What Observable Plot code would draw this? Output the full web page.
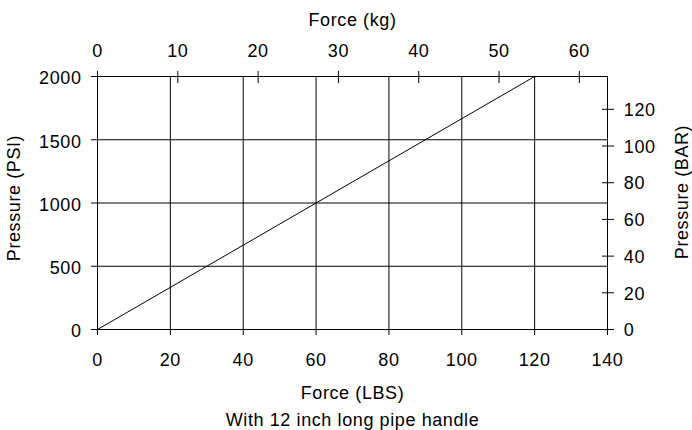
<!DOCTYPE html>
<html><head><meta charset="utf-8">
<script src="https://cdn.jsdelivr.net/npm/d3@7"></script>
<script src="https://cdn.jsdelivr.net/npm/@observablehq/plot@0.6"></script>
<style>body{margin:0;background:#fff}</style>
</head><body><div id="chart"></div>
<script>
const forceLbs = [0, 120];
const pressurePsi = [0, 2000];
const lbsTicks = [0, 20, 40, 60, 80, 100, 120, 140];
const psiTicks = [0, 500, 1000, 1500, 2000];
const kgTicks = [0, 10, 20, 30, 40, 50, 60];
const barTicks = [0, 20, 40, 60, 80, 100, 120];
const gridLbs = [20, 40, 60, 80, 100, 120];
const gridPsi = [500, 1000, 1500];
const LBS_PER_KG = 2.20462;
const PSI_PER_BAR = 14.5038;
const topLabel = "Force (kg)";
const bottomLabel = "Force (LBS)";
const subLabel = "With 12 inch long pipe handle";
const leftLabel = "Pressure (PSI)";
const rightLabel = "Pressure (BAR)";

const data = forceLbs.map((x, i) => ({lbs: x, psi: pressurePsi[i]}));
const kgInLbs = kgTicks.map(k => k * LBS_PER_KG);
const barInPsi = barTicks.map(b => b * PSI_PER_BAR);
const plain = d => String(d);

const plot = Plot.plot({
  width: 692, height: 430,
  marginLeft: 97, marginRight: 85, marginTop: 76, marginBottom: 101,
  style: {fontFamily: "'Liberation Sans', Arial, sans-serif", fontSize: "18px", letterSpacing: "0.6px", background: "#fff", color: "#000"},
  x: {domain: [0, 140]},
  y: {domain: [0, 2000]},
  marks: [
    Plot.gridX(gridLbs, {stroke: "#000", strokeOpacity: 1}),
    Plot.gridY(gridPsi, {stroke: "#000", strokeOpacity: 1}),
    Plot.frame({stroke: "#000"}),
    Plot.line(data, {x: "lbs", y: "psi", stroke: "#000", strokeWidth: 1}),
    // bottom
    Plot.axisX(lbsTicks, {anchor: "bottom", tickSize: 6, fill: "none", label: null, stroke: "#000"}),
    Plot.axisX(lbsTicks, {anchor: "bottom", tickSize: 0, tickPadding: 24, tickFormat: plain, label: null, fill: "#000", fontSize: 18}),
    // left
    Plot.axisY(psiTicks, {anchor: "left", tickSize: 6, fill: "none", label: null, stroke: "#000"}),
    Plot.axisY(psiTicks, {anchor: "left", tickSize: 0, tickPadding: 16, dy: 2, tickFormat: plain, label: null, fill: "#000", fontSize: 18}),
    // top (kg)
    Plot.axisX(kgInLbs, {anchor: "top", tickSize: 6, fill: "none", label: null, stroke: "#000"}),
    Plot.axisX(kgInLbs, {anchor: "top", tickSize: -6, fill: "none", label: null, stroke: "#000"}),
    Plot.axisX(kgInLbs, {anchor: "top", tickSize: 0, tickPadding: 19.5, tickFormat: d => String(Math.round(d / LBS_PER_KG)), label: null, fill: "#000", fontSize: 18}),
    // right (bar)
    Plot.axisY(barInPsi, {anchor: "right", tickSize: 6, fill: "none", label: null, stroke: "#000"}),
    Plot.axisY(barInPsi, {anchor: "right", tickSize: -6, fill: "none", label: null, stroke: "#000"}),
    Plot.axisY(barInPsi, {anchor: "right", tickSize: 0, tickPadding: 16.3, dy: 1, tickFormat: d => String(Math.round(d / PSI_PER_BAR)), label: null, fill: "#000", fontSize: 18}),
    // labels
    Plot.text([topLabel], {frameAnchor: "top", dy: -51, lineAnchor: "bottom", fill: "#000", fontSize: 18}),
    Plot.text([bottomLabel], {frameAnchor: "bottom", dy: 69, lineAnchor: "bottom", fill: "#000", fontSize: 18}),
    Plot.text([subLabel], {frameAnchor: "bottom", dy: 96, lineAnchor: "bottom", fill: "#000", fontSize: 18}),
    Plot.text([leftLabel], {frameAnchor: "left", textAnchor: "middle", dx: -83, dy: -5, rotate: -90, fill: "#000", fontSize: 18}),
    Plot.text([rightLabel], {frameAnchor: "right", textAnchor: "middle", dx: 75, dy: -11, rotate: -90, fill: "#000", fontSize: 18})
  ]
});
document.getElementById("chart").appendChild(plot);
</script>
</body></html>
